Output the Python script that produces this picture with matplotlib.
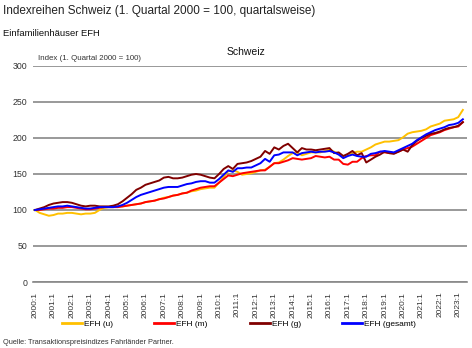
import matplotlib
matplotlib.use("Agg")
import matplotlib.pyplot as plt

plt.rcParams['font.family'] = ['Liberation Sans', 'DejaVu Sans']

years = list(range(2000, 2024))
tick_labels = [f"{y}:1" for y in years]

efh_u = [100, 96, 94, 92, 93, 95, 95, 96, 96, 95, 94, 95, 95, 96, 100, 103,
         104, 104, 105, 105, 106, 107, 108, 109, 111, 112, 113, 115, 117, 118, 120, 121,
         123, 124, 126, 127, 129, 130, 131, 131, 138, 146, 154, 155, 153, 149, 150, 151,
         153, 155, 156, 160, 165, 166, 170, 175, 179, 180, 176, 178, 180, 180, 180, 182,
         184, 181, 178, 174, 176, 179, 181, 181, 184, 187, 191, 193, 195, 195, 196, 197,
         201, 206, 208, 209, 210, 212, 216, 218, 220, 224, 225, 226, 229, 239]
efh_m = [100, 100, 101, 102, 102, 103, 103, 104, 104, 103, 102, 101, 101, 102, 103, 104,
         104, 104, 104, 105, 106, 107, 108, 109, 111, 112, 113, 115, 116, 118, 120, 121,
         123, 124, 127, 129, 131, 132, 133, 133, 138, 143, 148, 147, 149, 151, 152, 153,
         154, 155, 155, 160, 165, 165, 167, 169, 172, 171, 170, 171, 172, 175, 174, 173,
         174, 170, 170, 164, 163, 167, 167, 172, 175, 176, 176, 181, 180, 179, 179, 181,
         184, 186, 188, 192, 196, 200, 204, 206, 208, 211, 213, 215, 216, 222]
efh_g = [100, 102, 104, 107, 109, 110, 111, 111, 110, 108, 106, 105, 106, 106, 105, 105,
         105, 106, 108, 112, 117, 122, 128, 131, 135, 137, 139, 141, 145, 146, 144, 144,
         145, 147, 149, 150, 149, 147, 145, 144, 150, 157, 161, 157, 164, 165, 166, 168,
         171, 174, 182, 178, 187, 184, 189, 192, 186, 180, 186, 184, 184, 183, 184, 185,
         186, 179, 180, 175, 178, 182, 176, 179, 166, 170, 174, 177, 181, 179, 178, 181,
         184, 181, 190, 196, 200, 203, 206, 207, 209, 212, 214, 215, 217, 222]
efh_gesamt = [100, 101, 102, 103, 104, 105, 105, 106, 105, 104, 103, 102, 102, 103, 104, 104,
              104, 104, 105, 107, 110, 114, 118, 121, 123, 125, 127, 129, 131, 132, 132, 132,
              134, 136, 137, 139, 140, 140, 138, 138, 143, 149, 155, 153, 158, 158, 159, 159,
              162, 165, 171, 167, 176, 177, 180, 180, 180, 176, 179, 180, 181, 180, 181, 181,
              182, 180, 177, 172, 175, 177, 175, 174, 174, 178, 179, 181, 182, 181, 180, 183,
              186, 189, 192, 197, 201, 205, 208, 211, 213, 215, 218, 219, 221, 226]

series = [("EFH (u)", efh_u, "#FFC000"),
          ("EFH (m)", efh_m, "#FF0000"),
          ("EFH (g)", efh_g, "#800000"),
          ("EFH (gesamt)", efh_gesamt, "#0000FF")]

W, H = 472, 348
fig = plt.figure(figsize=(W / 100, H / 100), dpi=100)
ax = fig.add_axes([33 / W, 1 - 282 / H, (467 - 33) / W, (282 - 66) / H])

x = list(range(len(efh_u)))
handles = []
for name, vals, col in series:
    ln, = ax.plot(x, vals, color=col, lw=1.4, label=name, solid_joinstyle='round')
    handles.append(ln)

ax.set_ylim(0, 300)
ax.set_xlim(-0.45, 93.9)
ax.set_yticks(range(0, 301, 50))
ax.set_xticks([4 * k for k in range(len(years))])
ax.set_xticklabels(tick_labels, rotation=90, fontsize=6, color='#333333')
ax.tick_params(axis='y', labelsize=6.3, length=0, pad=4, labelcolor='#333333')
ax.tick_params(axis='x', length=0, pad=7)
for s in ['left', 'right', 'top']:
    ax.spines[s].set_visible(False)
ax.spines['bottom'].set_color('#888888')
ax.spines['bottom'].set_linewidth(1.2)
ax.grid(axis='y', color='#888888', lw=1.2)
ax.set_axisbelow(True)

fig.text(3 / W, 1 - 11 / H, "Indexreihen Schweiz (1. Quartal 2000 = 100, quartalsweise)",
         fontsize=8.5, va='center', ha='left', color='#222222')
fig.text(3 / W, 1 - 34 / H, "Einfamilienhäuser EFH", fontsize=6.8, va='center', ha='left',
         color='#111111')
fig.text(246 / W, 1 - 52 / H, "Schweiz", fontsize=7.5, va='center', ha='center', color='#111111')
fig.text(38 / W, 1 - 58 / H, "Index (1. Quartal 2000 = 100)", fontsize=5.7, va='center',
         ha='left', color='#333333')
fig.text(3 / W, 1 - 342 / H, "Quelle: Transaktionspreisindizes Fahrländer Partner.",
         fontsize=5.3, va='center', ha='left', color='#333333')

leg = fig.legend(handles=handles, loc='center', bbox_to_anchor=(239 / W, 1 - 324 / H),
                 ncol=4, frameon=False, fontsize=6, handlelength=2.4, handletextpad=0.25,
                 columnspacing=5.0, borderpad=0)
for lh in leg.get_lines():
    lh.set_linewidth(2)

fig.savefig("out.png", dpi=100)
